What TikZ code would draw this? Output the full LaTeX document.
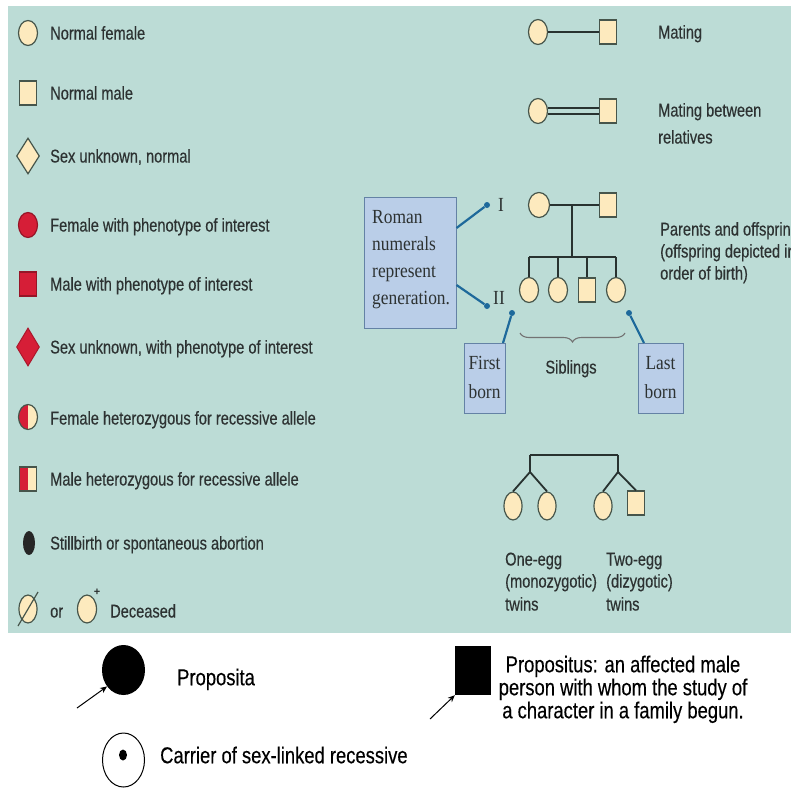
\documentclass[tikz,border=0pt]{standalone}
\usepackage{fontspec}
\setmainfont{Liberation Sans}
\newfontfamily\cond[FakeStretch=0.79,FakeBold=0.4]{Liberation Sans}
\newfontfamily\condb[FakeStretch=0.8,FakeBold=0.3]{Liberation Sans}
\newfontfamily\serf[FakeStretch=0.87]{Liberation Serif}
\usetikzlibrary{shapes.geometric,arrows.meta,decorations.pathreplacing}
\definecolor{bgteal}{RGB}{188,220,214}
\definecolor{cream}{RGB}{253,234,190}
\definecolor{edgec}{RGB}{70,85,75}
\definecolor{redsym}{RGB}{214,30,55}
\definecolor{txt}{RGB}{45,50,50}
\definecolor{boxfill}{RGB}{186,206,232}
\definecolor{boxedge}{RGB}{100,130,165}
\definecolor{pointer}{RGB}{30,105,155}
\definecolor{linec}{RGB}{40,50,48}
\tikzset{
  fem/.style={ellipse, draw=edgec, fill=cream, line width=1.2pt, minimum width=19pt, minimum height=25pt, inner sep=0pt},
  mal/.style={rectangle, draw=edgec, fill=cream, line width=1.2pt, minimum width=17pt, minimum height=24pt, inner sep=0pt},
  legtxt/.style={anchor=west, inner sep=0pt, text=txt, text height=13pt, text depth=0pt, font=\cond\fontsize{18.5}{22}\selectfont},
  sertxt/.style={inner sep=0pt, text=txt, text height=13pt, text depth=0pt, font=\serf\fontsize{20}{27}\selectfont},
  bottxt/.style={inner sep=0pt, text=black, text height=16.5pt, text depth=0pt, font=\condb\fontsize{23}{27}\selectfont},
  infobox/.style={rectangle, draw=boxedge, fill=boxfill, line width=1pt, inner sep=0pt},
  pline/.style={draw=pointer, line width=2.2pt},
  pdot/.style={circle, fill=pointer, minimum size=6pt, inner sep=0pt},
  kin/.style={draw=linec, line width=1.8pt},
  arr/.style={draw=black, line width=1pt, -{Stealth[length=7pt,width=6pt]}}
}
\begin{document}
\begin{tikzpicture}[x=1pt,y=-1pt]
\useasboundingbox (0,0) rectangle (791,787);
\clip (0,0) rectangle (791,787);
\fill[white] (0,0) rectangle (791,787);
\fill[bgteal] (8,6) rectangle (791,633);

% ---------- left legend ----------
\node[fem] (s1) at (28,33) {};
\node[legtxt] (t1) at (50,33) {Normal female};
\node[mal] (s2) at (28,93) {};
\node[legtxt] (t2) at (50,93) {Normal male};
\node[diamond, draw=edgec, fill=cream, line width=1.2pt, minimum width=23pt, minimum height=36pt, inner sep=0pt] (s3) at (28,156) {};
\node[legtxt] (t3) at (50,156) {Sex unknown, normal};
\node[fem, fill=redsym, draw=redsym!70!black] (s4) at (28,225) {};
\node[legtxt] (t4) at (50,225) {Female with phenotype of interest};
\node[mal, fill=redsym, draw=redsym!70!black] (s5) at (28,284) {};
\node[legtxt] (t5) at (50,284) {Male with phenotype of interest};
\node[diamond, fill=redsym, draw=redsym!80!black, line width=1pt, minimum width=23pt, minimum height=38pt, inner sep=0pt] (s6) at (28,347) {};
\node[legtxt] (t6) at (50,347) {Sex unknown, with phenotype of interest};
\node[fem, path picture={\fill[redsym] (path picture bounding box.south west) rectangle (path picture bounding box.north);}] (s7) at (28,417) {};
\node[legtxt] (t7) at (50,418) {Female heterozygous for recessive allele};
\node[mal, path picture={\fill[redsym] (path picture bounding box.south west) rectangle (path picture bounding box.north);}] (s8) at (28,479) {};
\node[legtxt] (t8) at (50,479) {Male heterozygous for recessive allele};
\node[ellipse, fill=black!85, minimum width=12pt, minimum height=24pt, inner sep=0pt] (s9) at (29,543) {};
\node[legtxt] (t9) at (50,543) {Stillbirth or spontaneous abortion};
\node[fem, minimum width=18pt, minimum height=28pt] (s10) at (28,609) {};
\coordinate (sl1) at (18,626);
\coordinate (sl2) at (38,592);
\draw[draw=edgec, line width=1.2pt] (sl1) -- (sl2);
\node[legtxt] (tor) at (50,611) {or};
\node[fem, minimum width=19pt, minimum height=28pt] (s11) at (87,609) {};
\node[inner sep=0pt, text=txt, font=\bfseries\fontsize{11}{11}\selectfont] (plus) at (97,592) {+};
\node[legtxt] (t10) at (110,611) {Deceased};

% ---------- matings ----------
\node[fem] (m1f) at (538,32) {};
\node[mal] (m1m) at (608,32) {};
\draw[kin] (m1f) -- (m1m);
\node[legtxt] (mt1) at (658,32) {Mating};

\node[fem] (m2f) at (538,111) {};
\node[mal] (m2m) at (608,111) {};
\draw[draw=linec, line width=1.8pt, double=bgteal, double distance=4.5pt] (m2f) -- (m2m);
\node[legtxt] (mt2) at (658,110) {Mating between};
\node[legtxt] (mt3) at (658,137) {relatives};

% ---------- parents and offspring ----------
\node[fem, minimum width=21pt] (pf) at (539,205) {};
\node[mal] (pm) at (608,205) {};
\draw[kin] (pf) -- (pm);
\coordinate (dtop) at (572,205);
\coordinate (dbot) at (572,257);
\draw[kin] (dtop) -- (dbot);
\node[fem] (c1) at (529,290) {};
\node[fem] (c2) at (558,290) {};
\node[mal] (c3) at (587,290) {};
\node[fem] (c4) at (616,290) {};
\coordinate (sb1) at (529,257);
\coordinate (sb4) at (616,257);
\draw[kin] (sb1) -- (sb4);
\draw[kin] (sb1) -- (c1.north);
\draw[kin] (c2.north |- sb1) -- (c2.north);
\draw[kin] (c3.north |- sb1) -- (c3.north);
\draw[kin] (sb4) -- (c4.north);

\node[legtxt] (po1) at (660,229) {Parents and offspring};
\node[legtxt] (po2) at (660,251) {(offspring depicted in};
\node[legtxt] (po3) at (660,273) {order of birth)};

\node[sertxt] (g1) at (501,205) {I};
\node[sertxt] (g2) at (499,298) {II};

\node[infobox, minimum width=92pt, minimum height=131pt] (rbox) at (410,262.5) {};
\node[sertxt, anchor=west] (r1) at (372,217) {Roman};
\node[sertxt, anchor=west] (r2) at (372,244) {numerals};
\node[sertxt, anchor=west] (r3) at (372,271) {represent};
\node[sertxt, anchor=west] (r4) at (372,298) {generation.};
\node[pdot] (pd1) at (487,205) {};
\node[pdot] (pd2) at (487,306) {};
\draw[pline] (rbox.east |- 0,228) -- (pd1);
\draw[pline] (rbox.east |- 0,285) -- (pd2);

\node[infobox, minimum width=41pt, minimum height=70pt] (fbox) at (484.5,378) {};
\node[sertxt] (f1) at (484.5,363) {First};
\node[sertxt] (f2) at (484.5,392) {born};
\node[pdot] (pd3) at (512,313) {};
\draw[pline] (503,343) -- (pd3);

\node[infobox, minimum width=45pt, minimum height=70pt] (lbox) at (660.5,378) {};
\node[sertxt] (l1) at (660.5,363) {Last};
\node[sertxt] (l2) at (660.5,392) {born};
\node[pdot] (pd4) at (629,313) {};
\draw[pline] (644,343) -- (pd4);

\coordinate (br1) at (520,333);
\coordinate (br2) at (625,333);
\draw[draw=black!55, line width=1.1pt, decorate, decoration={brace, mirror, amplitude=9pt}] (br1) -- (br2);
\node[legtxt, anchor=center] (sib) at (571,367) {Siblings};

% ---------- twins ----------
\coordinate (th1) at (530,455);
\coordinate (th2) at (618,455);
\coordinate (tj1) at (530,472);
\coordinate (tj2) at (618,472);
\draw[kin] (th1) -- (th2);
\draw[kin] (th1) -- (tj1);
\draw[kin] (th2) -- (tj2);
\node[fem, minimum width=18pt, minimum height=28pt] (tw1) at (513,506) {};
\node[fem, minimum width=18pt, minimum height=28pt] (tw2) at (547,506) {};
\node[fem, minimum width=18pt, minimum height=28pt] (tw3) at (603,506) {};
\node[mal] (tw4) at (636,503) {};
\draw[kin] (tj1) -- (tw1.north);
\draw[kin] (tj1) -- (tw2.north);
\draw[kin] (tj2) -- (tw3.north);
\draw[kin] (tj2) -- (tw4.north);
\node[legtxt] (oe1) at (505,559) {One-egg};
\node[legtxt] (oe2) at (505,581) {(monozygotic)};
\node[legtxt] (oe3) at (505,604) {twins};
\node[legtxt] (te1) at (606,559) {Two-egg};
\node[legtxt] (te2) at (606,581) {(dizygotic)};
\node[legtxt] (te3) at (606,604) {twins};

% ---------- bottom ----------
\node[ellipse, fill=black, minimum width=43pt, minimum height=50pt, inner sep=0pt] (prop) at (123.5,670) {};
\coordinate (pa) at (77,708);
\draw[arr] (pa) -- (prop.225);
\node[bottxt, anchor=west] (propt) at (177,677) {Proposita};

\node[rectangle, fill=black, minimum width=36pt, minimum height=49pt, inner sep=0pt] (props) at (473,670.5) {};
\coordinate (psa) at (430,719);
\draw[arr] (psa) -- (props.south west);
\node[bottxt] (pst1) at (623,664) {Propositus: an affected male};
\node[bottxt] (pst2) at (623,687) {person with whom the study of};
\node[bottxt] (pst3) at (623,710) {a character in a family begun.};

\node[ellipse, draw=black, fill=white, line width=1pt, minimum width=42pt, minimum height=54pt, inner sep=0pt] (carr) at (123.5,760) {};
\node[ellipse, fill=black, minimum width=8pt, minimum height=11pt, inner sep=0pt] (cdot) at (123,755) {};
\node[bottxt, anchor=west] (carrt) at (160,755) {Carrier of sex-linked recessive};
\end{tikzpicture}
\end{document}
